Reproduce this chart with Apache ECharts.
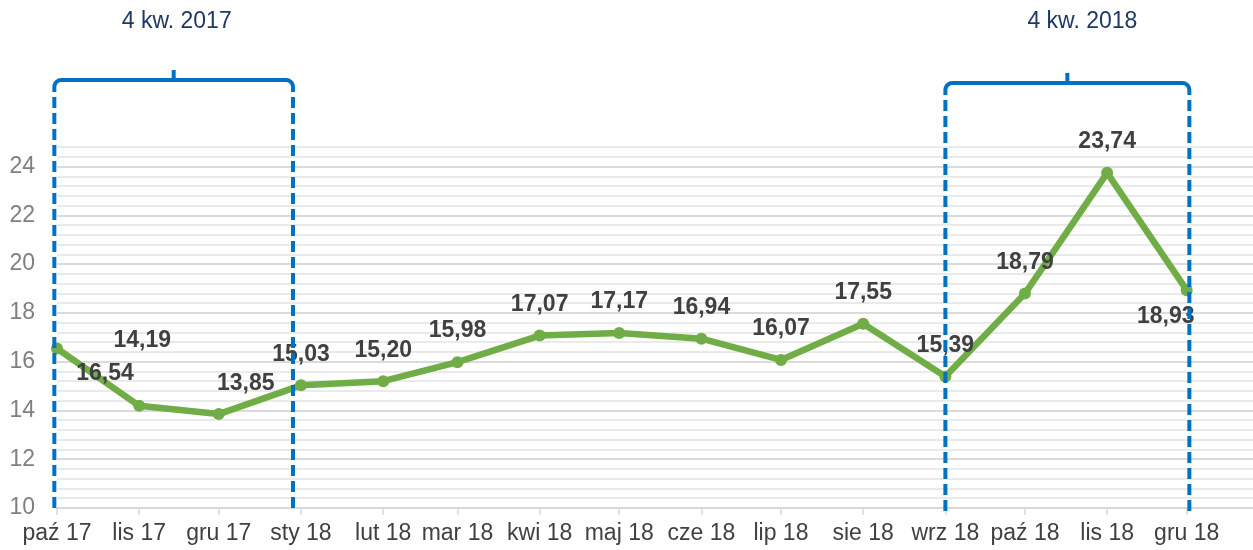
<!DOCTYPE html>
<html>
<head>
<meta charset="utf-8">
<script src="https://cdn.jsdelivr.net/npm/echarts@6/dist/echarts.min.js"></script>
<style>
html,body{margin:0;padding:0;background:#ffffff;}
#c{width:1253px;height:550px;}
</style>
</head>
<body>
<div id="c"></div>
<script>
// ---- data ----
const dates = ['2017-10-01','2017-11-01','2017-12-01','2018-01-01','2018-02-01','2018-03-01','2018-04-01','2018-05-01','2018-06-01','2018-07-01','2018-08-01','2018-09-01','2018-10-01','2018-11-01','2018-12-01'];
const monthLabels = ['paź 17','lis 17','gru 17','sty 18','lut 18','mar 18','kwi 18','maj 18','cze 18','lip 18','sie 18','wrz 18','paź 18','lis 18','gru 18'];
const values = [16.54,14.19,13.85,15.03,15.20,15.98,17.07,17.17,16.94,16.07,17.55,15.39,18.79,23.74,18.93];
const yTickLabels = [10,12,14,16,18,20,22,24];
const quarterTitles = ['4 kw. 2017','4 kw. 2018'];
const quarterSpans = [['2017-09-30','2017-12-29'],['2018-09-01','2018-12-02']];

// ---- helpers ----
function ts(s){ const p = s.split('-').map(Number); return new Date(p[0], p[1]-1, p[2]).getTime(); }
const monthTs = dates.map(ts);
const FONT = '"Liberation Sans", Arial, sans-serif';

// label placement (styling)
const defaultOffset = [0, -31];
const labelOffsets = {0:[48,25], 1:[3,-65], 2:[27,-30], 14:[-21,26]};

const seriesData = dates.map((d,i) => ({
  value: [monthTs[i], values[i]],
  label: { offset: labelOffsets[i] || defaultOffset }
}));

const chart = echarts.init(document.getElementById('c'), null, {renderer:'canvas'});

function monthLabelFor(v){
  for (let i = 0; i < monthTs.length; i++) {
    if (Math.abs(monthTs[i] - v) < 3600000) return monthLabels[i];
  }
  return '';
}

const option = {
  animation: false,
  backgroundColor: '#ffffff',
  grid: { left: 57, right: 0, top: 147, bottom: 42, containLabel: false },
  xAxis: {
    type: 'time',
    min: ts('2017-10-01'),
    max: ts('2018-12-26'),
    minInterval: 28*86400000,
    maxInterval: 31*86400000,
    splitLine: { show: false },
    axisLine: { show: true, lineStyle: { color: '#d9d9d9', width: 1.5 } },
    axisTick: { show: true, length: 7, lineStyle: { color: '#d9d9d9', width: 1.5 } },
    axisLabel: {
      showMaxLabel: false,
      margin: 14,
      color: '#404040',
      fontSize: 23,
      fontFamily: FONT,
      hideOverlap: false,
      formatter: function(v){ return monthLabelFor(v); }
    }
  },
  yAxis: {
    type: 'value',
    min: 10,
    max: 24.8,
    interval: 0.4,
    axisLine: { show: false },
    axisTick: { show: false },
    splitLine: { show: true, lineStyle: { color: ['#cfcfcf','#e3e3e3','#e3e3e3','#e3e3e3','#e3e3e3'], width: 1.5 } },
    axisLabel: {
      margin: 22,
      color: '#7f7f7f',
      fontSize: 23,
      fontFamily: FONT,
      formatter: function(v){
        const r = Math.round(v);
        if (Math.abs(v - r) < 1e-6 && yTickLabels.indexOf(r) >= 0) return String(r);
        return '';
      }
    }
  },
  series: [{
    type: 'line',
    data: seriesData,
    symbol: 'circle',
    symbolSize: 12,
    lineStyle: { color: '#70ad47', width: 6.5 },
    itemStyle: { color: '#70ad47' },
    label: {
      show: true,
      position: 'inside',
      color: '#404040',
      fontSize: 23,
      fontWeight: 'bold',
      fontFamily: FONT,
      formatter: p => p.value[1].toFixed(2).replace('.', ',')
    },
    z: 3
  }]
};
chart.setOption(option);

// ---- quarter brackets (positions derived from the time axis) ----
const bracketY = [80, 83];
const titleDx = [3, 15];
const R = 7;
function arcPts(cx, cy, r, a0, a1){
  const pts = [];
  for (let k = 0; k <= 8; k++) {
    const a = a0 + (a1 - a0) * k / 8;
    pts.push([cx + r*Math.cos(a), cy + r*Math.sin(a)]);
  }
  return pts;
}
const graphics = [];
quarterSpans.forEach((span, i) => {
  const xl = chart.convertToPixel({xAxisIndex:0}, ts(span[0]));
  const xr = chart.convertToPixel({xAxisIndex:0}, ts(span[1]));
  const xc = (xl + xr) / 2;
  const y = bracketY[i];
  const yBottom = chart.convertToPixel({yAxisIndex:0}, 10) + 4;
  const pts = [[xl, y + 12]]
    .concat(arcPts(xl + R, y + R, R, Math.PI, 1.5*Math.PI))
    .concat(arcPts(xr - R, y + R, R, 1.5*Math.PI, 2*Math.PI))
    .concat([[xr, y + 12]]);
  graphics.push({
    type: 'polyline', z: 100,
    shape: { points: pts },
    style: { fill: null, stroke: '#0070c0', lineWidth: 4, lineJoin: 'round' }
  });
  graphics.push({
    type: 'line', z: 100,
    shape: { x1: xc, y1: y, x2: xc, y2: y - 10 },
    style: { stroke: '#0070c0', lineWidth: 4 }
  });
  [xl, xr].forEach(x => {
    graphics.push({
      type: 'line', z: 100,
      shape: { x1: x, y1: y + 17, x2: x, y2: yBottom },
      style: { stroke: '#0070c0', lineWidth: 4, lineDash: [11, 5] }
    });
  });
  graphics.push({
    type: 'text', z: 100,
    x: xc + titleDx[i], y: 22,
    style: { text: quarterTitles[i], fill: '#1f3864', font: `23px ${FONT}`, textAlign: 'center', textVerticalAlign: 'middle' }
  });
});
chart.setOption({ graphic: graphics });
</script>
</body>
</html>
